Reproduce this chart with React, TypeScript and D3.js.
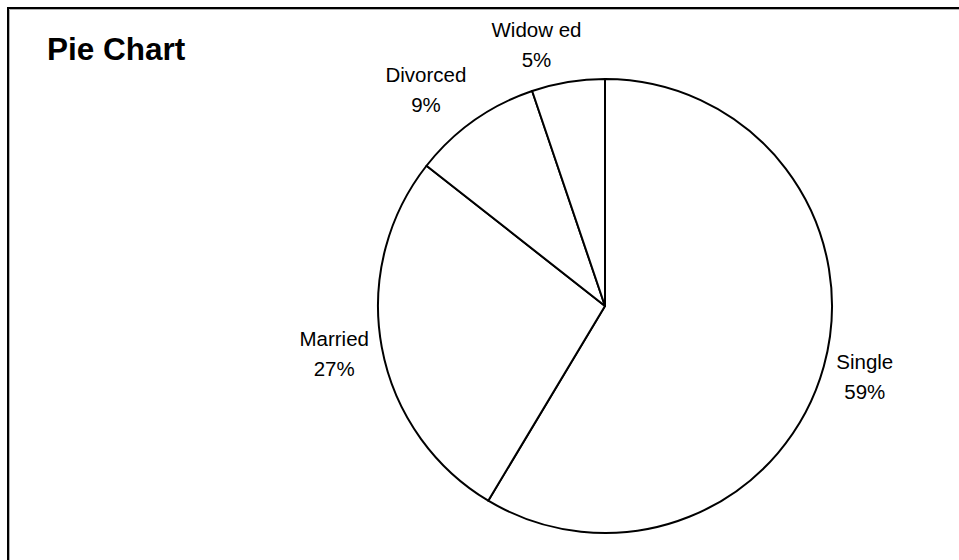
import React from "react";
import * as d3 from "d3";

const categories = ["Single", "Married", "Divorced", "Widowed"];
const displayNames = ["Single", "Married", "Divorced", "Widow ed"];
const values = [58.6, 27.0, 9.2, 5.2];
const percentLabels = ["59%", "27%", "9%", "5%"];

const W = 959;
const H = 560;
const CX = 605;
const CY = 306;
const R = 227;
const LABEL_R = 240;
const FONT = "'Liberation Sans', Arial, Helvetica, sans-serif";
const LABEL_FS = 20.5;
const LINE_GAP = 30;

export default function App() {
  const data = categories.map((c, i) => ({ c, name: displayNames[i], v: values[i], pct: percentLabels[i] }));
  const pie = d3.pie<any>().value((d) => d.v).sort(null).startAngle(0).endAngle(2 * Math.PI);
  const arcs = pie(data);
  const arcGen = d3.arc<any>().innerRadius(0).outerRadius(R);

  const measure = (s: string) => {
    const widths: Record<string, number> = {
      S: 0.667, i: 0.222, n: 0.556, g: 0.556, l: 0.222, e: 0.556, M: 0.833, a: 0.556, r: 0.333,
      d: 0.556, D: 0.722, v: 0.5, o: 0.556, c: 0.5, W: 0.944, w: 0.722, " ": 0.278,
    };
    let t = 0;
    for (const ch of s) t += widths[ch] ?? 0.556;
    return t * LABEL_FS;
  };

  return (
    <svg
      width={W}
      height={H}
      style={{ position: "absolute", left: 0, top: 0, background: "#fff" }}
      fontFamily={FONT}
    >
      <rect x={0} y={0} width={W} height={H} fill="#fff" />
      <line x1={9.5} y1={9.5} x2={W + 10} y2={9.5} stroke="#b0b0b0" strokeWidth={1} />
      <line x1={9.5} y1={9.5} x2={9.5} y2={H + 10} stroke="#b0b0b0" strokeWidth={1} />
      <rect x={8} y={8} width={W + 20} height={H + 20} fill="none" stroke="#000" strokeWidth={2} />

      <text x={47} y={60} fontSize={31.5} fontWeight="bold" fill="#000">
        Pie Chart
      </text>

      <g transform={`translate(${CX},${CY})`}>
        {arcs.map((a, i) => (
          <path key={i} d={arcGen(a) as string} fill="#fff" stroke="#000" strokeWidth={2} strokeLinejoin="round" />
        ))}
      </g>

      {arcs.map((a, i) => {
        const mid = (a.startAngle + a.endAngle) / 2;
        const s = Math.sin(mid);
        const c = Math.cos(mid);
        const px = CX + LABEL_R * s;
        const py = CY - LABEL_R * c;
        const w = Math.max(measure(a.data.name), measure(a.data.pct));
        const h = 50;
        const fx = Math.min(1, 1.2 * Math.cbrt(Math.abs(s)));
        const bx = px + (Math.sign(s) * fx * w) / 2;
        const by = py - (c * h) / 2;
        return (
          <text key={i} x={bx} textAnchor="middle" fontSize={LABEL_FS} fill="#000">
            <tspan x={bx} y={by - 8}>{a.data.name}</tspan>
            <tspan x={bx} y={by - 8 + LINE_GAP}>{a.data.pct}</tspan>
          </text>
        );
      })}
    </svg>
  );
}
